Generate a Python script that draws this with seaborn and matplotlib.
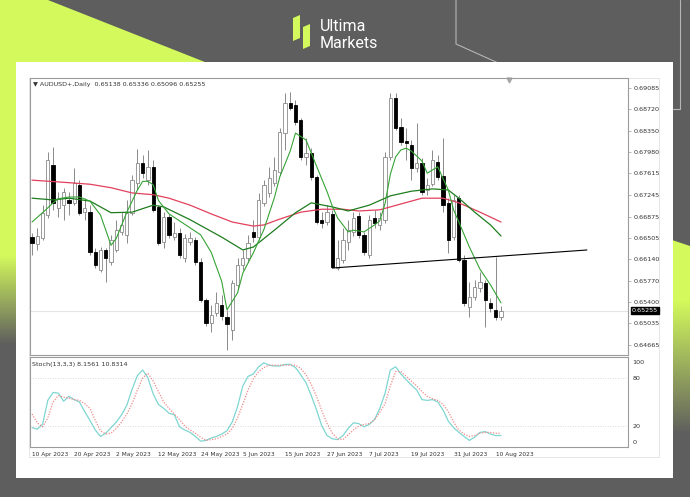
import numpy as np
import matplotlib.pyplot as plt
import matplotlib.patches as mpatches
import matplotlib.transforms as mtrans
import seaborn as sns

sns.set_style("white")
plt.rcParams['font.family'] = ['DejaVu Sans']

# daily candles, 10 Apr 2023 .. 11 Aug 2023 (bar index = trading day)
opens = [0.66522, 0.66402, 0.66505, 0.66901, 0.67761, 0.67021, 0.67073, 0.67159, 0.67107, 0.67417,
         0.66952, 0.66952, 0.66264, 0.65955, 0.66299, 0.66092, 0.66299, 0.66608, 0.66557, 0.66935,
         0.67451, 0.67795, 0.67503, 0.67726, 0.67038, 0.66436, 0.66866, 0.66522, 0.66591, 0.66161,
         0.66436, 0.66471, 0.66092, 0.65439, 0.65043, 0.65215, 0.65353, 0.65146, 0.64923, 0.65697,
         0.66041, 0.66161, 0.66608, 0.66522, 0.67107, 0.67279, 0.67451, 0.67640, 0.68311, 0.68827,
         0.68793, 0.68535, 0.67898, 0.67967, 0.67554, 0.66815, 0.66780, 0.66918, 0.65989, 0.66127,
         0.66436, 0.66608, 0.66883, 0.66557, 0.66213, 0.66849, 0.66729, 0.66815, 0.67898, 0.68913,
         0.68414, 0.68173, 0.68105, 0.67709, 0.67795, 0.67331, 0.67434, 0.67812, 0.67571, 0.67107,
         0.66522, 0.67193, 0.66127, 0.65318, 0.65490, 0.65645, 0.65731, 0.65387, 0.65267, 0.65138]
highs = [0.66591, 0.66677, 0.67073, 0.67984, 0.68070, 0.67296, 0.67365, 0.67296, 0.67709, 0.67503,
         0.67193, 0.67073, 0.66333, 0.66350, 0.66333, 0.66557, 0.66815, 0.66952, 0.67159, 0.67589,
         0.68036, 0.67933, 0.68019, 0.67847, 0.67073, 0.66952, 0.66918, 0.66780, 0.66677, 0.66574,
         0.66608, 0.66522, 0.66161, 0.65473, 0.65353, 0.65576, 0.65525, 0.65267, 0.65783, 0.66161,
         0.66299, 0.66557, 0.66815, 0.67279, 0.67503, 0.67726, 0.67898, 0.68397, 0.68999, 0.69016,
         0.68879, 0.68569, 0.68225, 0.68053, 0.67589, 0.66952, 0.67073, 0.66987, 0.66471, 0.66677,
         0.66815, 0.66952, 0.66952, 0.66608, 0.66901, 0.66987, 0.66952, 0.67984, 0.68999, 0.68999,
         0.68569, 0.68397, 0.68191, 0.68483, 0.67881, 0.67537, 0.68019, 0.67933, 0.68225, 0.67193,
         0.67245, 0.67245, 0.66213, 0.65748, 0.65783, 0.65920, 0.65783, 0.65473, 0.66178, 0.65336]
lows = [0.66213, 0.66299, 0.66471, 0.66849, 0.66987, 0.66866, 0.66815, 0.66901, 0.67073, 0.66901,
        0.66815, 0.66213, 0.65989, 0.65920, 0.65748, 0.66041, 0.66264, 0.66557, 0.66419, 0.66901,
        0.67331, 0.67537, 0.67417, 0.66952, 0.66385, 0.66333, 0.66505, 0.66471, 0.66161, 0.66092,
        0.66385, 0.66041, 0.65404, 0.64991, 0.64888, 0.65163, 0.65095, 0.64579, 0.64751, 0.65611,
        0.65955, 0.66092, 0.66436, 0.66471, 0.67055, 0.67210, 0.67399, 0.67589, 0.68019, 0.68707,
        0.68449, 0.67847, 0.67761, 0.67503, 0.66746, 0.66677, 0.66729, 0.65989, 0.65955, 0.66075,
        0.66299, 0.66539, 0.66505, 0.66213, 0.66161, 0.66677, 0.66643, 0.66763, 0.67847, 0.68363,
        0.68105, 0.67847, 0.67503, 0.67640, 0.67245, 0.67245, 0.67399, 0.67503, 0.66952, 0.66247,
        0.66471, 0.66092, 0.65335, 0.65146, 0.65439, 0.65576, 0.64974, 0.65232, 0.65095, 0.65096]
closes = [0.66419, 0.66539, 0.66935, 0.67847, 0.67107, 0.67193, 0.67296, 0.67107, 0.67451, 0.66935,
          0.67021, 0.66264, 0.66041, 0.66299, 0.66161, 0.66471, 0.66643, 0.66729, 0.66935, 0.67503,
          0.67795, 0.67623, 0.67726, 0.66987, 0.66419, 0.66866, 0.66557, 0.66591, 0.66213, 0.66505,
          0.66505, 0.66092, 0.65439, 0.65043, 0.65181, 0.65387, 0.65163, 0.65026, 0.65731, 0.66041,
          0.66161, 0.66419, 0.66522, 0.67159, 0.67417, 0.67537, 0.67675, 0.68328, 0.68827, 0.68741,
          0.68500, 0.67898, 0.67967, 0.67554, 0.66780, 0.66763, 0.66952, 0.66006, 0.66161, 0.66471,
          0.66643, 0.66849, 0.66557, 0.66264, 0.66815, 0.66763, 0.66849, 0.67898, 0.68913, 0.68397,
          0.68156, 0.68139, 0.67709, 0.67795, 0.67296, 0.67417, 0.67847, 0.67554, 0.67073, 0.66471,
          0.67159, 0.66127, 0.65387, 0.65490, 0.65662, 0.65748, 0.65439, 0.65301, 0.65146, 0.65255]

# moving averages
fast_idx = [0, 2, 4, 5, 7, 9, 11, 13, 15, 16, 18, 20, 21, 22, 23, 24, 26, 28, 30, 32, 34, 36, 37,
            39, 40, 42, 44, 46, 47, 49, 50, 52, 54, 56, 57, 58, 60, 61, 63, 65, 66, 67, 68, 69, 70,
            71, 72, 74, 75, 77, 79, 80, 81, 83, 85, 87, 89]
fast_ma = [0.6678, 0.6694, 0.6711, 0.6718, 0.6721, 0.6721, 0.6714, 0.6690, 0.6638, 0.6650, 0.6695,
           0.6733, 0.6748, 0.6748, 0.6742, 0.6715, 0.6692, 0.6680, 0.6668, 0.6656, 0.6626, 0.6576,
           0.6527, 0.6556, 0.6590, 0.6625, 0.6665, 0.6720, 0.6755, 0.6800, 0.6831, 0.6819, 0.6774,
           0.6730, 0.6705, 0.6685, 0.6661, 0.6664, 0.6661, 0.6673, 0.6680, 0.6710, 0.6760, 0.6790,
           0.6802, 0.6805, 0.6800, 0.6783, 0.6762, 0.6773, 0.6733, 0.6699, 0.6678, 0.6635, 0.6597,
           0.6570, 0.6539]
mid_idx = [0, 4, 7, 11, 15, 19, 23, 25, 30, 36, 40, 42, 46, 50, 53, 57, 60, 64, 68, 72, 76, 79,
           81, 84, 87, 89]
mid_ma = [0.6719, 0.6716, 0.6719, 0.6714, 0.6694, 0.6695, 0.6707, 0.6704, 0.6682, 0.6652, 0.6630,
          0.6635, 0.6664, 0.6694, 0.6711, 0.6704, 0.6697, 0.6707, 0.6723, 0.6731, 0.6735, 0.6733,
          0.6719, 0.6695, 0.6673, 0.6654]
slow_idx = [0, 5, 11, 15, 19, 23, 26, 30, 34, 38, 42, 44, 47, 51, 55, 59, 62, 66, 70, 74, 78, 81,
            85, 89]
slow_ma = [0.6750, 0.6747, 0.6743, 0.6737, 0.6728, 0.6725, 0.6719, 0.6707, 0.6692, 0.6678, 0.6671,
           0.6673, 0.6683, 0.6695, 0.6700, 0.6700, 0.6697, 0.6699, 0.6709, 0.6719, 0.6719, 0.6711,
           0.6695, 0.6678]

# trendline (bar, price)
trend_x = [57, 105.3]
trend_y = [0.65989, 0.66299]

# stochastic 13,3,3
stoch_k = [18, 16, 22, 52, 62, 61, 51, 57, 53, 50, 38, 27, 15, 7, 11, 18, 25, 34, 46, 66,
           83, 90, 80, 60, 47, 42, 36, 34, 19, 15, 12, 7, 1, 2, 5, 7, 10, 14, 25, 44,
           70, 82, 85, 94, 99, 96, 95, 95, 97, 97, 93, 84, 74, 58, 40, 20, 8, 4, 3, 8,
           17, 24, 23, 19, 22, 28, 42, 61, 90, 94, 85, 78, 71, 65, 53, 52, 53, 50, 40, 26,
           18, 12, 7, 2, 6, 12, 13, 10, 8, 8.16]
stoch_d = [35, 24, 19, 30, 50, 58, 56, 55, 53, 52, 48, 42, 27, 14, 10, 11, 17, 25, 35, 48,
           65, 80, 86, 76, 63, 50, 42, 35, 28, 20, 15, 11, 6, 2, 3, 4, 7, 10, 17, 30,
           47, 65, 79, 88, 93, 96, 96, 96, 96, 96, 96, 92, 84, 72, 57, 39, 23, 11, 4, 3,
           9, 15, 20, 22, 23, 28, 37, 48, 70, 88, 88, 82, 76, 70, 63, 57, 54, 52, 47, 38,
           25, 15, 10, 7, 8, 11, 12, 12, 11, 10.83]

price_ticks = [0.69085, 0.68720, 0.68350, 0.67980, 0.67615, 0.67245, 0.66875, 0.66505,
               0.66140, 0.65770, 0.65400, 0.65035, 0.64665]
date_pos = [0, 8, 16, 24, 32, 40, 48, 56, 64, 72, 80, 88]
date_labels = ['10 Apr 2023', '20 Apr 2023', '2 May 2023', '12 May 2023', '24 May 2023',
               '5 Jun 2023', '15 Jun 2023', '27 Jun 2023', '7 Jul 2023', '19 Jul 2023',
               '31 Jul 2023', '10 Aug 2023']
last_price = 0.65255

LIME = '#d3f95c'
DARK = '#5e5e5e'
FRAME = '#9c9c9c'
TXT = '#333333'

fig = plt.figure(figsize=(6.9, 4.97), dpi=100)
fig.patch.set_facecolor(DARK)

# background / branding layer in pixel coords
bg = fig.add_axes([0, 0, 1, 1], zorder=0)
bg.set_xlim(0, 690)
bg.set_ylim(497, 0)
bg.axis('off')
bg.add_patch(mpatches.Polygon([(0, 0), (48, 0), (215, 66), (0, 66)], closed=True, color=LIME, lw=0))
bg.add_patch(mpatches.Rectangle((0, 60), 17, 196, color=LIME, lw=0))
lime_rgb = np.array(plt.matplotlib.colors.to_rgb(LIME))
dark_rgb = np.array(plt.matplotlib.colors.to_rgb(DARK))
t = np.linspace(0, 1, 64)[:, None]
grad = (lime_rgb * (1 - t) + dark_rgb * t)[:, None, :]
bg.imshow(grad, extent=(0, 17, 345, 255), aspect='auto', zorder=1)
bg.add_patch(mpatches.Polygon([(672, 240), (690, 246), (690, 300), (672, 300)], closed=True,
                              color=LIME, lw=0))
bg.imshow(grad, extent=(672, 690, 435, 300), aspect='auto', zorder=1)
bg.plot([456, 456, 545], [0, 44, 84], color='#b5b5b5', lw=0.8)
bg.plot([680, 680, 672], [0, 109, 109], color='#b5b5b5', lw=0.8)
bg.add_patch(mpatches.Rectangle((16, 62), 657, 416, color='white', lw=0, zorder=2))
bg.add_patch(mpatches.Rectangle((29, 78), 630, 379, fill=False, ec='#e2e2e2', lw=0.6, zorder=3))

# logo
bg.add_patch(mpatches.Polygon([(293, 18), (300, 15), (300, 38), (293, 41)], closed=True,
                              color=LIME, lw=0, zorder=3))
bg.add_patch(mpatches.Polygon([(303, 27), (310, 24), (310, 46), (303, 49)], closed=True,
                              color=LIME, lw=0, zorder=3))
bg.text(320, 31, 'Ultima', color='white', fontsize=11.5, family='Roboto', va='baseline', zorder=3)
bg.text(320, 48, 'Markets', color='white', fontsize=11.5, family='Roboto', va='baseline', zorder=3)

# main price panel
ax = fig.add_axes([30 / 690, 1 - 355 / 497, 598 / 690, 277 / 497], zorder=5)
ax.set_facecolor('white')
x = np.arange(len(closes))
o = np.array(opens); c = np.array(closes)
up = c >= o
ax.vlines(x, lows, highs, color='#8a8a8a', lw=0.7, zorder=2)
ax.bar(x[up], (c - o)[up], bottom=o[up], width=0.62, color='white', edgecolor='#8a8a8a',
       lw=0.6, zorder=3)
ax.bar(x[~up], (o - c)[~up], bottom=c[~up], width=0.62, color='black', edgecolor='black',
       lw=0.6, zorder=3)

sns.lineplot(x=slow_idx, y=slow_ma, ax=ax, color='#e2405c', lw=0.9, zorder=4)
sns.lineplot(x=mid_idx, y=mid_ma, ax=ax, color='#1f7d1f', lw=0.9, zorder=4)
sns.lineplot(x=fast_idx, y=fast_ma, ax=ax, color='#36a336', lw=0.8, zorder=4)
ax.plot(trend_x, trend_y, color='black', lw=0.8, zorder=5)
ax.axhline(last_price, color='#e4e4e4', lw=0.8, zorder=1)

ax.set_xlim(-0.38, 113.1)
ax.set_ylim(0.64493, 0.69257)
ax.set_xticks([])
ax.yaxis.tick_right()
ax.set_yticks(price_ticks)
ax.set_yticklabels([f'{v:.5f}' for v in price_ticks])
ax.tick_params(axis='y', length=2, width=0.5, color=FRAME, pad=2, labelsize=4.6, labelcolor=TXT)
for s in ax.spines.values():
    s.set_color(FRAME)
    s.set_linewidth(0.8)
ax.set_xlabel('')
ax.set_ylabel('')

trans = mtrans.blended_transform_factory(ax.transAxes, ax.transData)
ax.text(1.006, last_price, f'{last_price:.5f}', transform=trans, fontsize=4.6, color='white',
        va='center', ha='left', bbox=dict(boxstyle='square,pad=0.15', fc='black', ec='black'),
        zorder=6, clip_on=False)
ax.plot([90.5], [0.993], marker='v', ms=3.5, color='#a8a8a8',
        transform=mtrans.blended_transform_factory(ax.transData, ax.transAxes), clip_on=False)
ax.text(0.005, 0.978, '\u25bc AUDUSD+,Daily  0.65138 0.65336 0.65096 0.65255',
        transform=ax.transAxes, fontsize=4.6, color=TXT, va='center', ha='left')

# stochastic panel
ax2 = fig.add_axes([30 / 690, 1 - 447 / 497, 598 / 690, 90 / 497], zorder=5)
ax2.set_facecolor('white')
for lvl in (80, 20):
    ax2.axhline(lvl, color='#cfcfcf', lw=0.6, ls=(0, (1, 2)))
sns.lineplot(x=x, y=stoch_k, ax=ax2, color='#7fd6d2', lw=0.9)
sns.lineplot(x=x, y=stoch_d, ax=ax2, color='#f08a8a', lw=0.9, linestyle=(0, (1, 1.2)))
ax2.set_xlim(-0.38, 113.1)
ax2.set_ylim(-6.25, 106.25)
ax2.yaxis.tick_right()
ax2.set_yticks([100, 80, 20, 0])
ax2.set_yticklabels(['100', '80', '20', '0'])
ax2.set_xticks(date_pos)
ax2.set_xticklabels(date_labels, ha='left')
ax2.tick_params(axis='y', length=0, pad=3, labelsize=4.6, labelcolor=TXT)
ax2.tick_params(axis='x', length=2, width=0.5, color=FRAME, pad=1.5, labelsize=4.2,
                labelcolor=TXT)
for s in ax2.spines.values():
    s.set_color(FRAME)
    s.set_linewidth(0.8)
ax2.set_xlabel('')
ax2.set_ylabel('')
ax2.text(0.004, 0.92, 'Stoch(13,3,3) 8.1561 10.8314', transform=ax2.transAxes, fontsize=4.6,
         color=TXT, va='center', ha='left')

fig.savefig('out.png', dpi=100)
